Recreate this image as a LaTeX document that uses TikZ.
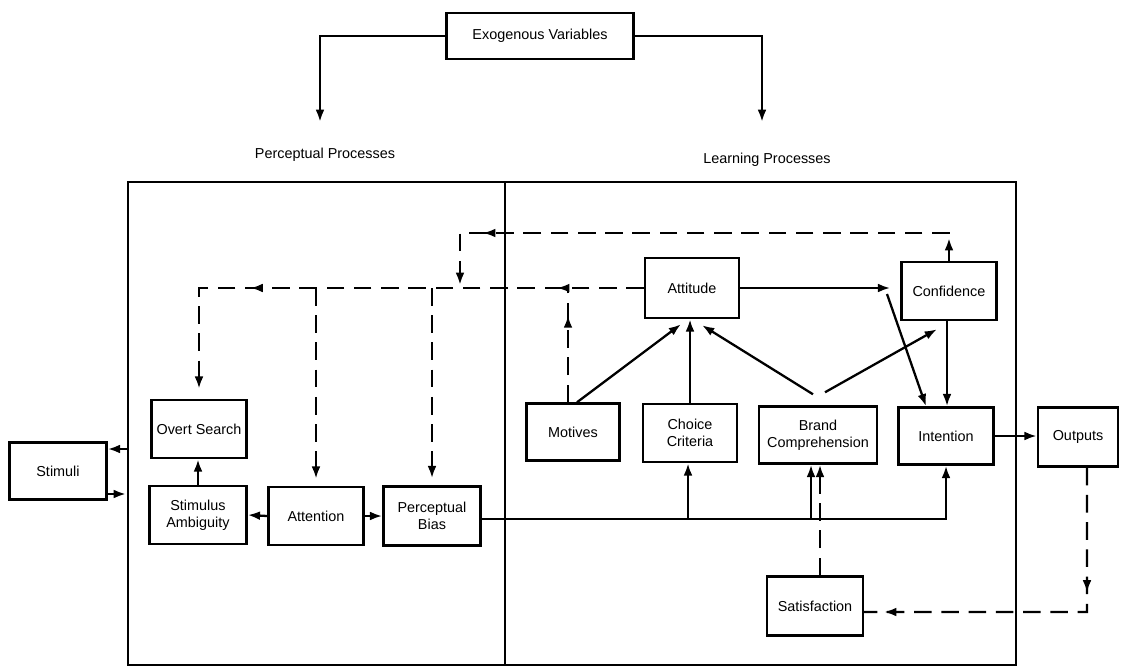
\documentclass[tikz,border=0pt]{standalone}
\usepackage{fontspec}
\setmainfont{Liberation Sans}
\usetikzlibrary{arrows, shapes, positioning, arrows.meta}
\usetikzlibrary{decorations.markings}

\tikzset{
  blk/.style={draw, rectangle, line width=1.4pt, minimum width=1.9cm, minimum height=1.16cm, align=center, inner sep=1pt},
  arr/.style={line width=1.3pt, -{Latex[length=7pt,width=5pt]}},
  dsh/.style={line width=1.3pt, dash pattern=on 10pt off 5.5pt},
  darr/.style={dsh, -{Latex[length=7pt,width=5pt]}},
  tipat/.style={postaction={decorate, decoration={markings, mark=at position #1 with {\arrow{Latex[length=7pt,width=5pt]}}}}},
}

\begin{document}
\begin{tikzpicture}[x=0.02cm, y=-0.02cm, font=\fontsize{8.2}{9.6}\selectfont]

\pgfdeclarelayer{bg}    % layer for the frame
\pgfsetlayers{bg,main}

\useasboundingbox (0,0) rectangle (1129,672);

% top
\node (exo)[blk, minimum width=3.74cm, minimum height=0.92cm] at (540,36) {Exogenous Variables};
\node (pp) at (325,155) {Perceptual Processes};
\node (lp) at (767,160) {Learning Processes};
\coordinate (ppin) at (320,122);
\coordinate (lpin) at (762,122);
\draw[arr] (exo.west) -| (ppin);
\draw[arr] (exo.east) -| (lpin);

% perceptual processes
\node (stim)[blk, minimum width=1.94cm, minimum height=1.14cm] at (58,471) {Stimuli};
\node (ovs)[blk] at (199,429) {Overt Search};
\node (amb)[blk, minimum width=1.94cm] at (198,515) {Stimulus\\Ambiguity};
\node (attn)[blk] at (316,516) {Attention};
\node (bias)[blk, minimum width=1.94cm, minimum height=1.18cm] at (432,516) {Perceptual\\Bias};

% learning processes
\node (atti)[blk, minimum width=1.88cm, minimum height=1.2cm] at (692,288) {Attitude};
\node (conf)[blk] at (949,291) {Confidence};
\node (mot)[blk, minimum width=1.86cm, minimum height=1.14cm] at (573,432) {Motives};
\node (cho)[blk, minimum width=1.88cm] at (690,433) {Choice\\Criteria};
\node (bra)[blk, minimum width=2.36cm, minimum height=1.14cm] at (818,435) {Brand\\Comprehension};
\node (int)[blk, minimum height=1.14cm] at (946,436) {Intention};
\node (out)[blk, minimum width=1.6cm, minimum height=1.18cm] at (1078,437) {Outputs};
\node (sat)[blk, minimum width=1.92cm, minimum height=1.18cm] at (815,606) {Satisfaction};

\begin{pgfonlayer}{bg}
\draw[line width=1.2pt] (128,182) rectangle (1016,665);
\draw[line width=1.2pt] (505,182) -- (505,665);
\end{pgfonlayer}

% stimuli in and out
\coordinate (sin) at (128,449);
\coordinate (sout) at (126,494);
\draw[arr] (sin) -- (sin -| stim.east);
\draw[arr] (sout -| stim.east) -- (sout);

\draw[arr] (amb.north) -- (amb.north |- ovs.south);
\draw[arr] (attn.west) -- (amb.east);
\draw[arr] (attn.east) -- (bias.west);

% line out of perceptual bias
\coordinate (bus) at (688,519);
\coordinate (bub) at (811,519);
\draw[arr] (bias.east |- bus) -| (int.south);
\draw[arr] (bus) -- (bus |- cho.south);
\draw[arr] (bub) -- (bub |- bra.south);
\draw[darr] ([xshift=0.1cm]sat.north) -- ([xshift=0.1cm]sat.north |- bra.south);

\draw[arr] ([xshift=0.08cm]mot.north) -- ([xshift=-0.22cm,yshift=-0.1cm]atti.south);
\draw[arr] (cho.north) -- (cho.north |- atti.south);
\draw[arr] ([xshift=-0.1cm,yshift=0.22cm]bra.north) -- ([xshift=0.2cm,yshift=-0.12cm]atti.south);
\draw[arr] ([xshift=0.14cm,yshift=0.26cm]bra.north) -- ([xshift=-0.24cm,yshift=-0.16cm]conf.south);
\draw[arr, shorten >=0.2cm] (atti.east) -- (atti.east -| conf.west);
\coordinate (aj) at (887,294);
\draw[arr] (aj) -- ([xshift=-0.4cm]int.north);
\draw[arr] ([xshift=-0.04cm]conf.south) -- ([xshift=-0.04cm]conf.south |- int.north);
\draw[arr] (int.east) -- (int.east -| out.west);

% feedback
\coordinate (ctop) at (949,233);
\coordinate (cleft) at (460,233);
\coordinate (cdown) at (460,285);
\draw[darr, tipat=0.04, tipat=0.868] (conf.north) -- (ctop) -- (cleft) -- (cdown);
\draw[darr, tipat=0.156, tipat=0.708, shorten >=0.2cm] (atti.west) -- (ovs.north |- atti.west) -- (ovs.north);
\draw[darr, shorten >=0.14cm] (attn.north |- atti.west) -- (attn.north);
\draw[darr, shorten >=0.14cm] (bias.north |- atti.west) -- (bias.north);
\draw[dsh, tipat=0.76] ([xshift=-0.1cm]mot.north) -- ([xshift=-0.1cm]mot.north |- atti.west);

\coordinate (oc) at (1087,612);
\draw[dsh, tipat=0.34, tipat=0.946] ([xshift=0.18cm]out.south) -- (oc) -- (oc -| sat.east);

\end{tikzpicture}
\end{document}
